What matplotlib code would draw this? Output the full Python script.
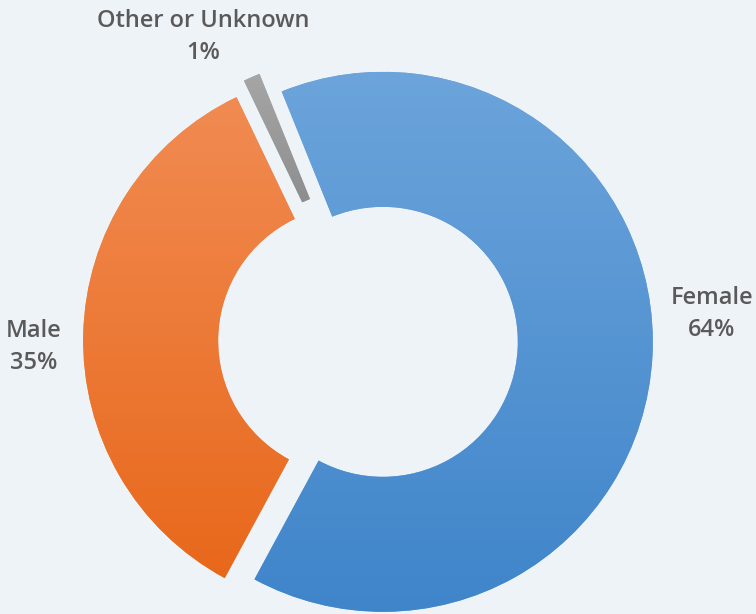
import numpy as np
import matplotlib
matplotlib.use("Agg")
import matplotlib.pyplot as plt
from matplotlib.colors import LinearSegmentedColormap

# data
categories = ["Female", "Male", "Other or Unknown"]
shares = [64, 35, 1]
top_colors = ["#6ca4db", "#f18b52", "#a6a6a6"]
bottom_colors = ["#3f85ca", "#e8681b", "#8e8e8e"]
explode = [0.055, 0.055, 0.068]

bg = "#eef3f8"
text_color = "#5a5a5a"

W, H = 756, 614
scale = 270.0          # pixels per unit radius
cx, cy = 368.0, 341.0  # pie centre in pixels (from top-left)

fig = plt.figure(figsize=(W / 100, H / 100), dpi=100, facecolor=bg)
ax = fig.add_axes([0, 0, 1, 1])
ax.set_facecolor(bg)

wedges, _ = ax.pie(shares, explode=explode, startangle=112.0, counterclock=False,
                   radius=1.0, wedgeprops=dict(width=0.5, linewidth=0),
                   colors=top_colors, frame=True)

grad = np.linspace(0, 1, 256).reshape(-1, 1)
for w, ct, cb in zip(wedges, top_colors, bottom_colors):
    bb = w.get_path().get_extents()
    cmap = LinearSegmentedColormap.from_list("g", [ct, cb])
    im = ax.imshow(grad, cmap=cmap, aspect="auto",
                   extent=[bb.x0, bb.x1, bb.y0, bb.y1], origin="upper",
                   zorder=3, interpolation="bilinear")
    im.set_clip_path(w)

ax.set_xlim(-cx / scale, (W - cx) / scale)
ax.set_ylim(-(H - cy) / scale, cy / scale)
ax.set_aspect("auto")
ax.axis("off")

def px(x, y):
    return (x - cx) / scale, (cy - y) / scale

label_px = [(712, 314), (34, 347), (203, 37)]
for cat, val, (lx, ly) in zip(categories, shares, label_px):
    x, y = px(lx, ly)
    ax.text(x, y, f"{cat}\n{val}%", ha="center", va="center",
            fontsize=17, fontfamily=["Open Sans", "DejaVu Sans"],
            fontweight="semibold", color=text_color, linespacing=1.4,
            zorder=5)

fig.savefig("out.png", dpi=100, facecolor=bg)
